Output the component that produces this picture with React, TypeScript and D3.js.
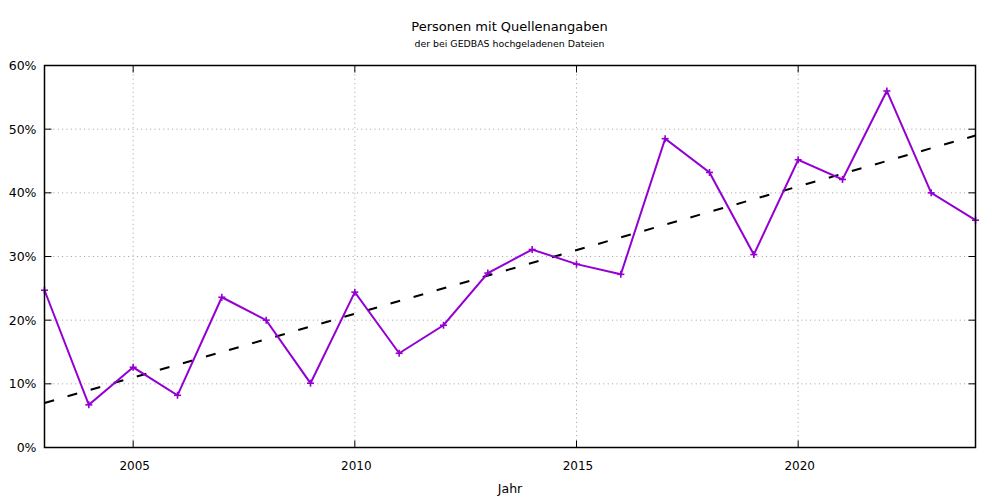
import React from "react";
import * as d3 from "d3";

const years = [2003, 2004, 2005, 2006, 2007, 2008, 2009, 2010, 2011, 2012, 2013, 2014, 2015, 2016, 2017, 2018, 2019, 2020, 2021, 2022, 2023, 2024];
const shares = [24.7, 6.7, 12.6, 8.2, 23.6, 20.0, 10.1, 24.4, 14.8, 19.2, 27.4, 31.1, 28.8, 27.2, 48.5, 43.2, 30.3, 45.2, 42.1, 56.0, 40.0, 35.7];
const trendYears = [2003, 2024];
const trendValues = [7.0, 49.0];
const xTicks = [2005, 2010, 2015, 2020];
const yTicks = [0, 10, 20, 30, 40, 50, 60];

const W = 1000, H = 500;
const M = { left: 44.5, right: 975.5, top: 65.5, bottom: 447.5 };
const FONT = "DejaVu Sans, Verdana, sans-serif";

export default function App() {
  const x = d3.scaleLinear().domain([2003, 2024]).range([M.left, M.right]);
  const y = d3.scaleLinear().domain([0, 60]).range([M.bottom, M.top]);
  const line = d3.line<number>().x((_, i) => x(years[i])).y((d) => y(d));
  const trend = d3.line<number>().x((_, i) => x(trendYears[i])).y((d) => y(d));
  const color = "#9400d3";
  return (
    <svg width={W} height={H} style={{ position: "absolute", left: 0, top: 0, background: "#fff" }} fontFamily={FONT}>
      <rect x={0} y={0} width={W} height={H} fill="#fff" />
      <text x={509.5} y={31} textAnchor="middle" fontSize={13}>Personen mit Quellenangaben</text>
      <text x={509.5} y={47} textAnchor="middle" fontSize={9.4}>der bei GEDBAS hochgeladenen Dateien</text>
      {/* grid */}
      {yTicks.slice(1, -1).map((t) => (
        <line key={"gy" + t} x1={M.left} x2={M.right} y1={y(t)} y2={y(t)} stroke="#a0a0a0" strokeWidth={1} strokeDasharray="1,3.4" />
      ))}
      {xTicks.map((t) => (
        <line key={"gx" + t} x1={x(t)} x2={x(t)} y1={M.top} y2={M.bottom} stroke="#a0a0a0" strokeWidth={1} strokeDasharray="1,3.4" />
      ))}
      {/* ticks */}
      {yTicks.map((t) => (
        <g key={"ty" + t}>
          <line x1={M.left} x2={M.left + 7} y1={y(t)} y2={y(t)} stroke="#000" />
          <line x1={M.right - 7} x2={M.right} y1={y(t)} y2={y(t)} stroke="#000" />
          <text x={M.left - 8} y={y(t) + 4.5} textAnchor="end" fontSize={12.5}>{t}%</text>
        </g>
      ))}
      {xTicks.map((t) => (
        <g key={"tx" + t}>
          <line x1={x(t)} x2={x(t)} y1={M.bottom} y2={M.bottom - 7} stroke="#000" />
          <line x1={x(t)} x2={x(t)} y1={M.top} y2={M.top + 7} stroke="#000" />
          <text x={x(t) + 1.5} y={470} textAnchor="middle" fontSize={12}>{t}</text>
        </g>
      ))}
      <text x={510} y={493} textAnchor="middle" fontSize={12.5}>Jahr</text>
      {/* data */}
      <path d={trend(trendValues) || ""} fill="none" stroke="#000" strokeWidth={2} strokeDasharray="10,14" />
      <path d={line(shares) || ""} fill="none" stroke={color} strokeWidth={2} strokeLinejoin="miter" />
      {shares.map((v, i) => (
        <g key={"p" + i} stroke={color} strokeWidth={1.6}>
          <line x1={x(years[i]) - 3.5} x2={x(years[i]) + 3.5} y1={y(v)} y2={y(v)} />
          <line x1={x(years[i])} x2={x(years[i])} y1={y(v) - 3.5} y2={y(v) + 3.5} />
        </g>
      ))}
      <rect x={M.left} y={M.top} width={M.right - M.left} height={M.bottom - M.top} fill="none" stroke="#000" strokeWidth={1.5} />
    </svg>
  );
}
